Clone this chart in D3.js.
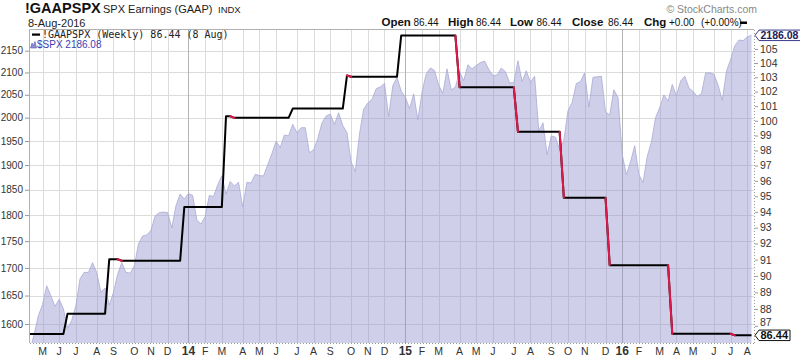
<!DOCTYPE html>
<html><head><meta charset="utf-8">
<script src="https://cdn.jsdelivr.net/npm/d3@7"></script>
<style>
html,body{margin:0;padding:0;background:#fff;}
svg{display:block;font-family:"Liberation Sans",Arial,sans-serif;}
</style></head><body>
<svg id="c" width="800" height="359"></svg>
<script>
// ---------- DATA ----------
const weekStart = "2013-04-15";
const weekEnd = "2016-08-08";
// $SPX weekly closes (one per week, Monday-dated)
const spxWeekly = [
1555.25,1582.24,1614.42,1633.70,1667.47,1649.60,1630.74,1643.38,1626.73,1592.43,
1606.28,1631.89,1680.19,1692.09,1691.65,1709.67,1691.42,1655.83,1663.50,1632.97,
1655.17,1687.99,1709.91,1691.75,1690.50,1703.20,1744.50,1759.77,1761.64,1770.61,
1798.18,1804.76,1805.81,1805.09,1775.32,1818.32,1841.40,1831.37,1842.37,1838.70,
1790.29,1782.59,1797.02,1838.63,1836.25,1859.45,1878.04,1841.13,1866.52,1857.62,
1865.09,1815.69,1864.85,1863.40,1881.14,1878.48,1877.86,1900.53,1923.57,1949.44,
1936.16,1962.87,1960.96,1985.44,1967.57,1978.22,1978.34,1925.15,1931.59,1955.06,
1988.40,2003.37,2007.71,1985.54,2010.40,1982.85,1967.90,1906.13,1886.76,1964.58,
2018.05,2031.92,2039.82,2063.50,2067.56,2075.37,2002.33,2070.65,2088.77,2058.20,
2044.81,2019.42,2051.82,1994.99,2055.47,2096.99,2110.30,2104.50,2071.26,2053.40,
2108.10,2061.02,2066.96,2102.06,2081.18,2117.69,2108.29,2116.10,2122.73,2126.06,
2107.39,2092.83,2094.11,2109.99,2101.49,2076.78,2076.62,2126.64,2079.65,2103.84,
2077.57,2091.54,1970.89,1988.87,1921.22,1961.05,1958.03,1931.34,1951.36,2014.89,
2033.11,2075.15,2079.36,2099.20,2023.04,2089.17,2090.11,2091.69,2012.37,2005.55,
2060.99,2043.94,1922.03,1880.33,1906.90,1940.24,1880.05,1864.78,1917.78,1948.05,
1999.99,2022.19,2049.58,2035.94,2072.78,2047.60,2080.73,2091.58,2065.30,2057.14,
2046.61,2052.32,2099.06,2099.13,2096.07,2071.22,2037.41,2102.95,2129.90,2161.74,
2175.03,2173.60,2182.87,2186.08
];
// !GAAPSPX weekly step points (date of week, value)
const gaapDates = [
"2013-04-15","2013-06-10","2013-06-17","2013-08-19","2013-08-26","2013-09-09","2013-09-16",
"2013-12-23","2013-12-30","2014-03-03","2014-03-10","2014-03-17","2014-03-24","2014-06-23",
"2014-06-30","2014-09-22","2014-09-29","2014-10-06","2014-12-22","2014-12-29","2015-03-30",
"2015-04-06","2015-07-06","2015-07-13","2015-09-21","2015-09-28","2015-12-07","2015-12-14",
"2016-03-21","2016-03-28","2016-07-04","2016-07-11","2016-08-08"
];
const gaapValues = [
86.51,86.51,87.72,87.72,91.02,91.02,90.93,
90.93,94.31,94.31,100.31,100.31,100.20,100.20,
100.83,100.83,103.12,103.04,103.04,105.96,105.96,
102.31,102.31,99.25,99.25,94.91,94.91,90.66,
90.66,86.53,86.53,86.44,86.44
];
const leftTicks = [1600,1650,1700,1750,1800,1850,1900,1950,2000,2050,2100,2150];
const rightTicks = [87,88,89,90,91,92,93,94,95,96,97,98,99,100,101,102,103,104,105];
const monthLetters = ["J","F","M","A","M","J","J","A","S","O","N","D"];
const titleSymbol = "!GAAPSPX";
const titleName = "SPX Earnings (GAAP)";
const titleExch = "INDX";
const chartDate = "8-Aug-2016";
const legendMain = "!GAAPSPX (Weekly) 86.44 (8 Aug)";
const legendSpx = "$SPX 2186.08";

// ---------- SETUP ----------
const parse = d3.timeParse("%Y-%m-%d");
const weeks = d3.timeMonday.range(parse(weekStart), d3.timeDay.offset(parse(weekEnd), 1));
const spx = weeks.map((d, i) => ({date: d, value: spxWeekly[i]})).filter(d => d.value != null);
const gaap = gaapDates.map((d, i) => ({date: parse(d), value: gaapValues[i]}));

const P = {left: 30, right: 754, top: 30, bottom: 343};
const x = d3.scaleTime().domain([weeks[0], weeks[weeks.length - 1]]).range([30, 751.5]);
const yL = d3.scaleLog().domain([1567.5, 2198.7]).range([P.bottom, P.top]);
const yR = d3.scaleLog().domain([85.99, 106.36]).range([P.bottom, P.top]);

const svg = d3.select("#c");
svg.append("rect").attr("width", 800).attr("height", 359).attr("fill", "#fff");

svg.append("defs").append("clipPath").attr("id", "plotclip")
  .append("rect").attr("x", P.left).attr("y", P.top)
  .attr("width", P.right - P.left).attr("height", P.bottom - P.top);

// month ticks at first Monday of each month
const months = d3.timeMonth.range(new Date(2013, 3, 1), new Date(2016, 8, 1));
const monthTicks = months.map(m => ({month: m, at: d3.timeMonday.ceil(m)}))
  .filter(t => t.at >= weeks[0] && t.at <= weeks[weeks.length - 1]);

// ---------- GRID ----------
const grid = svg.append("g");
grid.selectAll("line.h").data(leftTicks).join("line")
  .attr("x1", P.left).attr("x2", P.right)
  .attr("y1", d => Math.round(yL(d)) + 0.5).attr("y2", d => Math.round(yL(d)) + 0.5)
  .attr("stroke", "#dcdcdc").attr("stroke-width", 1);
grid.selectAll("line.v").data(monthTicks).join("line")
  .attr("y1", P.top).attr("y2", P.bottom)
  .attr("x1", d => Math.round(x(d.at)) + 0.5).attr("x2", d => Math.round(x(d.at)) + 0.5)
  .attr("stroke", d => d.month.getMonth() === 0 ? "#b4b4b4" : "#dcdcdc").attr("stroke-width", 1);

// ---------- AREA ($SPX) ----------
const plot = svg.append("g").attr("clip-path", "url(#plotclip)");
plot.append("path").datum(spx)
  .attr("d", d3.area().x(d => x(d.date)).y0(P.bottom).y1(d => yL(d.value)))
  .attr("fill", "rgb(140,140,205)").attr("fill-opacity", 0.42);
plot.append("path").datum(spx)
  .attr("d", d3.line().x(d => x(d.date)).y(d => yL(d.value)))
  .attr("fill", "none").attr("stroke", "#aaaad6").attr("stroke-width", 0.8);

// ---------- GAAP LINE ----------
const line = d3.line().x(d => x(d.date)).y(d => yR(d.value));
plot.append("path").datum(gaap).attr("d", line)
  .attr("fill", "none").attr("stroke", "#000").attr("stroke-width", 2)
  .attr("stroke-linejoin", "round");
const downSegs = [];
for (let i = 1; i < gaap.length; i++) if (gaap[i].value < gaap[i - 1].value) downSegs.push([gaap[i - 1], gaap[i]]);
plot.selectAll("path.down").data(downSegs).join("path")
  .attr("d", line).attr("fill", "none").attr("stroke", "#e0184a").attr("stroke-width", 2)
  .attr("stroke-linecap", "round");

// ---------- FRAME ----------
svg.append("line").attr("x1", P.left - 0.5).attr("x2", P.right).attr("y1", P.top - 0.5).attr("y2", P.top - 0.5)
  .attr("stroke", "#b0b0b0");
svg.append("line").attr("x1", P.left - 0.5).attr("x2", P.left - 0.5).attr("y1", P.top - 0.5).attr("y2", P.bottom)
  .attr("stroke", "#b0b0b0");
svg.append("line").attr("x1", P.left).attr("x2", P.right).attr("y1", P.bottom + 0.5).attr("y2", P.bottom + 0.5)
  .attr("stroke", "#999").attr("stroke-dasharray", "1,2");
svg.append("line").attr("x1", P.right + 0.5).attr("x2", P.right + 0.5).attr("y1", P.top).attr("y2", P.bottom)
  .attr("stroke", "#999").attr("stroke-dasharray", "1,2");

// ---------- AXES ----------
const axL = svg.append("g").attr("transform", `translate(${P.left - 1},0)`)
  .call(d3.axisLeft(yL).tickValues(leftTicks).tickSize(4).tickPadding(2).tickFormat(d3.format("d")));
axL.select(".domain").remove();
axL.selectAll("line").attr("stroke", "#999");
axL.selectAll("text").attr("fill", "#333").style("font-size", "10px").style("font-family", "'Liberation Sans',Arial,sans-serif");

const axR = svg.append("g").attr("transform", `translate(${P.right + 1},0)`)
  .call(d3.axisRight(yR).tickValues(rightTicks).tickSize(3).tickPadding(2).tickFormat(d3.format("d")));
axR.select(".domain").remove();
axR.selectAll("line").attr("stroke", "#999");
axR.selectAll("text").attr("fill", "#333").style("font-size", "10.5px").style("font-family", "'Liberation Sans',Arial,sans-serif");
// lowest label is lifted clear of the last-value tag, as in the original
axR.selectAll(".tick").filter(d => d === rightTicks[0]).select("text").attr("dy", "-0.05em");

// bottom month labels
svg.append("g").selectAll("text").data(monthTicks).join("text")
  .attr("x", d => x(d.at)).attr("y", 355).attr("text-anchor", "middle")
  .attr("fill", "#333")
  .style("font-size", d => d.month.getMonth() === 0 ? "12px" : "10.5px")
  .style("font-weight", d => d.month.getMonth() === 0 ? "bold" : "normal")
  .text(d => d.month.getMonth() === 0 ? d3.timeFormat("%y")(d.month) : monthLetters[d.month.getMonth()]);

// ---------- TITLE / HEADER ----------
svg.append("text").attr("x", 25).attr("y", 13).attr("fill", "#111")
  .style("font-size", "14.5px").style("font-weight", "bold").text(titleSymbol);
svg.append("text").attr("x", 103).attr("y", 13).attr("fill", "#222")
  .style("font-size", "11px").text(titleName);
svg.append("text").attr("x", 218).attr("y", 13).attr("fill", "#222")
  .style("font-size", "9.5px").text(titleExch);
svg.append("text").attr("x", 28).attr("y", 26.5).attr("fill", "#222")
  .style("font-size", "11px").text(chartDate);
svg.append("text").attr("x", 757).attr("y", 12.5).attr("text-anchor", "end").attr("fill", "#888")
  .style("font-size", "10.5px").text("\u00A9 StockCharts.com");

const last = gaap[gaap.length - 1].value, prev = gaap[gaap.length - 2].value;
const chg = last - prev;
const fmt = d3.format(".2f");
const header = [
  ["Open", true, 381.5], [fmt(last), false, 413.5],
  ["High", true, 448], [fmt(last), false, 476],
  ["Low", true, 510], [fmt(last), false, 536.5],
  ["Close", true, 572], [fmt(last), false, 608],
  ["Chg", true, 644], [(chg >= 0 ? "+" : "") + fmt(chg), false, 669],
  ["(" + (chg >= 0 ? "+" : "") + fmt(chg / prev * 100) + "%)", false, 701]
];
svg.append("g").selectAll("text").data(header).join("text")
  .attr("x", d => d[2]).attr("y", 26)
  .attr("fill", "#111")
  .style("font-size", d => d[1] ? "11.5px" : "10px")
  .style("font-weight", d => d[1] ? "bold" : "normal")
  .text(d => d[0]);
svg.append("rect").attr("x", 740).attr("y", 21.5).attr("width", 7).attr("height", 2.5).attr("fill", "#000");

// ---------- LEGEND ----------
svg.append("rect").attr("x", 32).attr("y", 33.5).attr("width", 8).attr("height", 2.2).attr("fill", "#000");
svg.append("text").attr("x", 42).attr("y", 38).attr("fill", "#222")
  .style("font-family", "'DejaVu Sans Mono',monospace").style("font-size", "10px")
  .text(legendMain);
svg.append("path").attr("d", "M30.5,48 L32,43 L33.5,45.5 L35,41.5 L36.5,48 Z")
  .attr("fill", "#8c8cd2").attr("stroke", "#5a5ab4").attr("stroke-width", 0.6);
svg.append("text").attr("x", 37).attr("y", 48).attr("fill", "#3c3cb0")
  .style("font-size", "10px").text(legendSpx);

// ---------- LAST VALUE BOXES ----------
function tag(yv, xTip, w, label, stroke, color, fs) {
  const h = 10.5, bx = xTip + 4;
  svg.append("path")
    .attr("d", `M${xTip},${yv} L${bx},${yv - h / 2} L${bx + w},${yv - h / 2} L${bx + w},${yv + h / 2} L${bx},${yv + h / 2} Z`)
    .attr("fill", "#fff").attr("stroke", stroke).attr("stroke-width", 1);
  svg.append("text").attr("x", bx + 1.5).attr("y", yv + 4).attr("fill", color)
    .style("font-size", fs).style("font-weight", "bold").text(label);
}
const spxLast = spx[spx.length - 1].value;
tag(yL(spxLast), 755, 50, fmt(spxLast), "#3a3a8c", "#1a1a5a", "10.5px");
tag(yR(last), 755, 31, fmt(last), "#111", "#111", "11px");
</script>
</body></html>
